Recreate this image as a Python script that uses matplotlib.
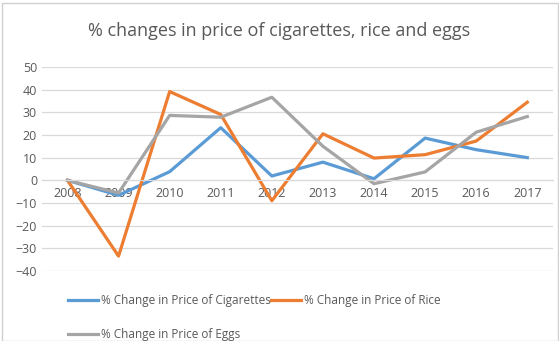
import matplotlib
matplotlib.use("Agg")
import matplotlib.pyplot as plt
from matplotlib.lines import Line2D
from matplotlib.patches import Rectangle

plt.rcParams["font.family"] = ["Open Sans", "DejaVu Sans"]

years = ["2008", "2009", "2010", "2011", "2012", "2013", "2014", "2015", "2016", "2017"]
cigarettes = [0, -6.6, 3.8, 23.2, 1.9, 8.0, 0.7, 18.6, 13.5, 10.0]
rice = [0, -33.4, 39.1, 29.0, -9.0, 20.5, 9.8, 11.3, 17.3, 34.4]
eggs = [0, -5.6, 28.6, 27.8, 36.6, 15.0, -1.5, 3.7, 21.2, 28.1]

c_cig = "#5B9BD5"
c_rice = "#ED7D31"
c_eggs = "#A5A5A5"
txt = "#595959"
grid = "#D9D9D9"

fig = plt.figure(figsize=(5.59, 3.41), dpi=100)
ax = fig.add_axes([0.075, 0.205, 0.914, 0.599])

x = list(range(len(years)))
lw = 2.3
ax.plot(x, cigarettes, color=c_cig, lw=lw, solid_joinstyle="round")
ax.plot(x, rice, color=c_rice, lw=lw, solid_joinstyle="round")
ax.plot(x, eggs, color=c_eggs, lw=lw, solid_joinstyle="round")

ax.set_xlim(-0.5, len(years) - 0.5)
ax.set_ylim(-40, 50)
ax.set_yticks(range(-40, 51, 10))
ax.yaxis.grid(True, color=grid, lw=0.9)
ax.set_axisbelow(True)
ax.set_xticks(x)
ax.set_xticklabels(years)
for s in ["top", "right", "left"]:
    ax.spines[s].set_visible(False)
ax.spines["bottom"].set_position(("data", 0))
ax.spines["bottom"].set_color(grid)
ax.tick_params(axis="both", length=0, labelsize=9, labelcolor=txt)
ax.tick_params(axis="x", pad=5)

fig.suptitle("% changes in price of cigarettes, rice and eggs", x=0.5, y=0.935,
             fontsize=13, color=txt)

handles = [Line2D([0], [0], color=c_cig, lw=lw),
           Line2D([0], [0], color=c_eggs, lw=lw),
           Line2D([0], [0], color=c_rice, lw=lw)]
labels = ["% Change in Price of Cigarettes", "% Change in Price of Eggs",
          "% Change in Price of Rice"]
fig.legend(handles, labels, ncol=2, loc="upper left", bbox_to_anchor=(0.122, 0.137),
           frameon=False, fontsize=8.5, labelcolor=txt, handlelength=2.5,
           handletextpad=0.3, columnspacing=0.0, labelspacing=1.75, borderpad=0,
           borderaxespad=0)

fig.patches.append(Rectangle((0.004, 0.0), 0.995, 0.99, transform=fig.transFigure,
                             fill=False, edgecolor="#D0D0D0", lw=1))

fig.savefig("out.png", dpi=100)
